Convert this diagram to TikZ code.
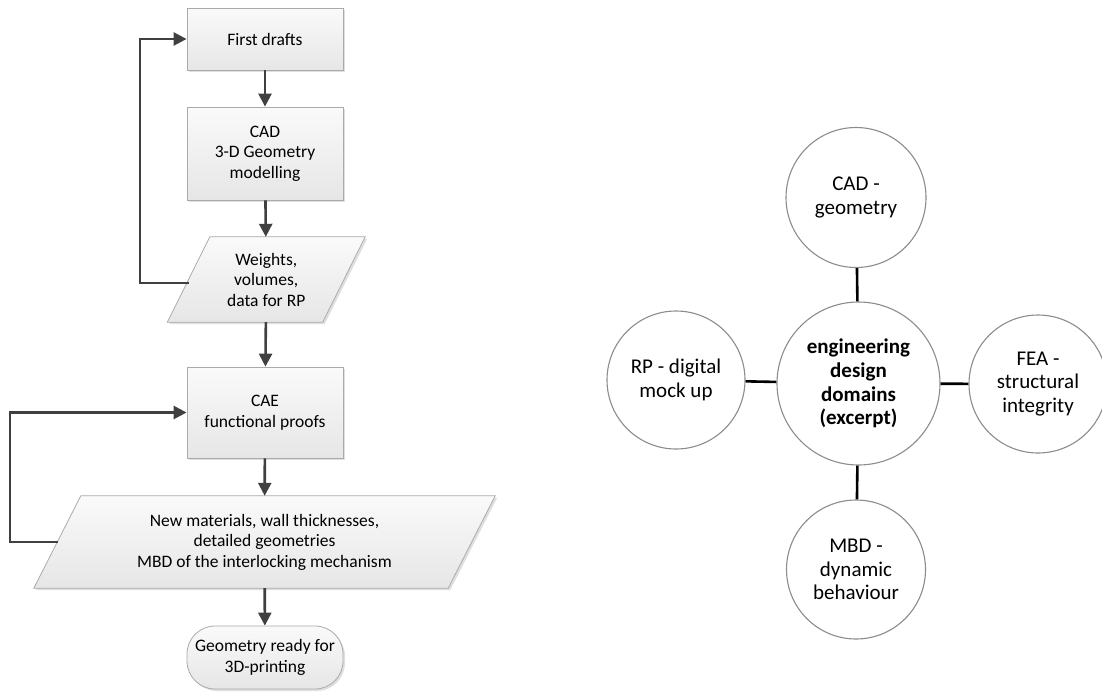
\documentclass[tikz,border=0pt]{standalone}
\usepackage{fontspec}
\setmainfont{Carlito}
\usetikzlibrary{arrows.meta,shadows,calc}
\definecolor{boxline}{RGB}{170,170,170}
\definecolor{boxtop}{RGB}{250,250,250}
\definecolor{boxbot}{RGB}{230,230,230}
\definecolor{arrowcol}{RGB}{64,64,64}
\definecolor{circline}{RGB}{140,140,140}
\begin{document}
\begin{tikzpicture}[x=1pt,y=-1pt,
  flowfont/.style={font=\fontsize{17.5}{20.5}\selectfont},
  flowbox/.style={draw=boxline, line width=0.8pt, top color=boxtop, bottom color=boxbot,
    drop shadow={shadow xshift=2pt, shadow yshift=-2pt, opacity=0.25},
    minimum width=156pt, minimum height=#1, inner sep=0pt, align=center, flowfont},
  datatext/.style={inner sep=0pt, align=center, flowfont, minimum height=#1},
  datashape/.style={draw=boxline, line width=0.8pt, top color=boxtop, bottom color=boxbot,
    drop shadow={shadow xshift=2pt, shadow yshift=-2pt, opacity=0.25}},
  termbox/.style={draw=boxline, line width=0.8pt, top color=boxtop, bottom color=boxbot,
    drop shadow={shadow xshift=2pt, shadow yshift=-2pt, opacity=0.25},
    rounded corners=28pt, minimum width=156pt, minimum height=63pt, inner sep=0pt, align=center, flowfont},
  flowarrow/.style={draw=arrowcol, line width=2.6pt, -{Triangle[length=13pt,width=13pt]}},
  domain/.style={circle, draw=circline, line width=1.1pt, fill=white, minimum size=#1,
    inner sep=0pt, align=center, font=\fontsize{21}{23.8}\selectfont},
  link/.style={draw=black, line width=2.6pt}
]
\useasboundingbox (0,0) rectangle (1102,691);

% ---- left flowchart ----
\node[flowbox=62pt] (fd) at (265,39) {First drafts};
\node[flowbox=93pt] (cad) at (265,153.5) {CAD\\3-D Geometry\\modelling};

\node[datatext=85pt, minimum width=155pt] (wts) at (266.25,279.5) {Weights,\\volumes,\\data for RP};
\path[datashape] ($(wts.north west)+(21.25,0)$) -- ($(wts.north east)+(21.25,0)$)
  -- ($(wts.south east)+(-21.25,0)$) -- ($(wts.south west)+(-21.25,0)$) -- cycle;
\node[datatext=85pt, minimum width=155pt] at (266.25,279.5) {Weights,\\volumes,\\data for RP};

\node[flowbox=91pt] (cae) at (265,412.5) {CAE\\functional proofs};

\node[datatext=92pt, minimum width=414pt] (nm) at (264.5,542) {New materials, wall thicknesses,\\detailed geometries\\MBD of the interlocking mechanism};
\path[datashape] ($(nm.north west)+(23.5,0)$) -- ($(nm.north east)+(23.5,0)$)
  -- ($(nm.south east)+(-23.5,0)$) -- ($(nm.south west)+(-23.5,0)$) -- cycle;
\node[datatext=92pt, minimum width=414pt] at (264.5,542) {New materials, wall thicknesses,\\detailed geometries\\MBD of the interlocking mechanism};

\node[termbox] (term) at (265,657.5) {Geometry ready for\\3D-printing};

\coordinate (wl) at (188.5,283);
\coordinate (nl) at (58,542);

\draw[flowarrow] (fd) -- (cad);
\draw[flowarrow] (cad) -- (wts);
\draw[flowarrow] (wts) -- (cae);
\draw[flowarrow] (cae) -- (nm);
\draw[flowarrow] (nm) -- (term);
\draw[flowarrow] (wl) -- (140,283) |- (fd.west);
\draw[flowarrow] (nl) -- (10,542) |- (cae.west);

% ---- right: design domains ----
\node[domain=163pt, font=\fontsize{21}{23.8}\selectfont\bfseries] (eng) at (858.5,383.5) {engineering\\design\\domains\\(excerpt)};
\node[domain=140pt] (cadg) at (856,197.5) {CAD -\\geometry};
\node[domain=139pt] (mbd) at (856,569.5) {MBD -\\dynamic\\behaviour};
\node[domain=138pt] (rp) at (676,380) {RP - digital\\mock up};
\node[domain=138pt] (fea) at (1038,384) {FEA -\\structural\\integrity};

\draw[link] (cadg) -- (eng);
\draw[link] (eng) -- (mbd);
\draw[link] (rp) -- (eng);
\draw[link] (eng) -- (fea);
\end{tikzpicture}
\end{document}
